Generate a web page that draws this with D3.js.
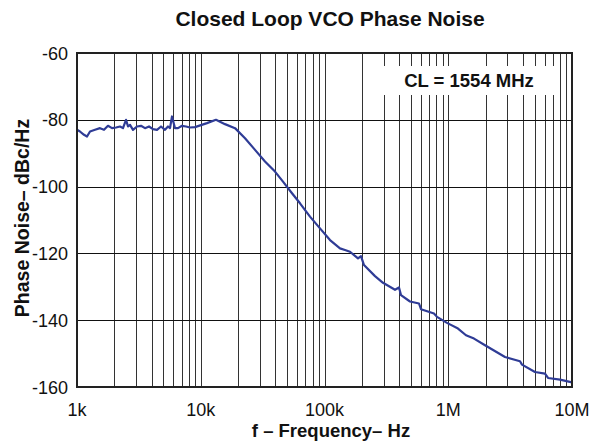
<!DOCTYPE html>
<html>
<head>
<meta charset="utf-8">
<script src="https://cdn.jsdelivr.net/npm/d3@7"></script>
<style>
  body { margin: 0; background: #fff; }
  text { font-family: "Liberation Sans", Arial, sans-serif; fill: #111; }
</style>
</head>
<body>
<div id="chart"></div>
<script>
// tick labels
var xTicks = [1e3, 1e4, 1e5, 1e6, 1e7];
var xTickLabels = ["1k", "10k", "100k", "1M", "10M"];
var yTicks = [-160, -140, -120, -100, -80, -60];

// phase noise curve
var freq = [1000, 1057, 1139, 1205, 1274, 1398, 1534, 1653, 1780, 1918, 2066, 2226, 2353, 2489, 2584, 2681, 2835, 3053, 3290, 3544, 3817, 4113, 4431, 4773, 5142, 5438, 5643, 5857, 6193, 6551, 7056, 7601, 8188, 8985,
  11230, 13280, 15700, 18920, 22790, 27450, 33050, 39810, 46190, 54630, 63390, 76350, 91960, 110800, 133400, 146400, 160700, 186500, 197200, 208500, 255900, 297000, 371300, 399900, 415000, 490900, 580200, 602300, 767000, 811000, 977000,
  1199000, 1391000, 1615000, 1982000, 2875000, 3799000, 3945000, 5023000, 6051000, 6400000, 8000000, 10000000];
var noise = [-83, -83.5, -84.5, -85, -83.5, -83, -82.5, -83, -81.8, -82.5, -82.3, -82, -82.5, -80, -82, -81.5, -83, -82, -81.8, -82.5, -82, -82.8, -83, -82, -83, -82, -82.5, -79, -82.5, -82.5, -81.8, -82, -82.3, -82.2,
  -81, -80, -81.3, -82.5, -85.5, -89, -92.5, -95.5, -98.5, -102, -105, -109, -112.5, -116, -118.5, -119, -119.5, -121.5, -120.8, -123.5, -126.8, -128.8, -130.9, -130.2, -132.5, -134.4, -135, -136.7, -138, -139, -140.8,
  -142.5, -144.5, -145.5, -147.5, -151, -152.3, -153.3, -155.5, -156, -157.3, -157.8, -158.6];

var W = 590, H = 445;
var margin = { left: 77, right: 18, top: 53, bottom: 58 };

var svg = d3.select("#chart").append("svg")
  .attr("width", W)
  .attr("height", H);

var x = d3.scaleLog().domain([1e3, 1e7]).range([margin.left, W - margin.right]);
var y = d3.scaleLinear().domain([-160, -60]).range([H - margin.bottom, margin.top]);

// grid: 1..9 per decade
var minor = [];
for (var d = 1e3; d < 1e7; d *= 10) {
  for (var k = 1; k < 10; k++) minor.push(d * k);
}

svg.append("g").selectAll("line")
  .data(minor)
  .enter().append("line")
  .attr("x1", function (d) { return Math.round(x(d)) + 0.5; })
  .attr("x2", function (d) { return Math.round(x(d)) + 0.5; })
  .attr("y1", y(-60))
  .attr("y2", y(-160))
  .attr("stroke", "#333")
  .attr("stroke-width", 1);

svg.append("g").selectAll("line")
  .data(yTicks)
  .enter().append("line")
  .attr("x1", x(1e3))
  .attr("x2", x(1e7))
  .attr("y1", function (d) { return Math.round(y(d)) + 0.5; })
  .attr("y2", function (d) { return Math.round(y(d)) + 0.5; })
  .attr("stroke", "#111")
  .attr("stroke-width", 1);

// legend box hides grid
svg.append("rect")
  .attr("x", 384)
  .attr("y", 66)
  .attr("width", 172)
  .attr("height", 29)
  .attr("fill", "#fff");

svg.append("text")
  .attr("x", 469)
  .attr("y", 87)
  .attr("text-anchor", "middle")
  .style("font-size", "18.5px")
  .style("font-weight", "bold")
  .text("CL = 1554 MHz");

// curve
var pts = freq.map(function (f, i) { return [f, noise[i]]; });
svg.append("path")
  .datum(pts)
  .attr("fill", "none")
  .attr("stroke", "#2f3c96")
  .attr("stroke-width", 2.2)
  .attr("stroke-linejoin", "round")
  .attr("d", d3.line()
    .x(function (d) { return x(d[0]); })
    .y(function (d) { return y(d[1]); }));

// frame
svg.append("rect")
  .attr("x", x(1e3))
  .attr("y", y(-60))
  .attr("width", x(1e7) - x(1e3))
  .attr("height", y(-160) - y(-60))
  .attr("fill", "none")
  .attr("stroke", "#222")
  .attr("stroke-width", 2);

// axes labels
svg.append("g").selectAll("text")
  .data(xTicks)
  .enter().append("text")
  .attr("x", function (d) { return x(d); })
  .attr("y", 416)
  .attr("text-anchor", "middle")
  .style("font-size", "18px")
  .text(function (d, i) { return xTickLabels[i]; });

svg.append("g").selectAll("text")
  .data(yTicks)
  .enter().append("text")
  .attr("x", margin.left - 9)
  .attr("y", function (d) { return y(d) + 6.5; })
  .attr("text-anchor", "end")
  .style("font-size", "18px")
  .text(function (d) { return d; });

svg.append("text")
  .attr("x", 330)
  .attr("y", 26)
  .attr("text-anchor", "middle")
  .style("font-size", "21px")
  .style("font-weight", "bold")
  .text("Closed Loop VCO Phase Noise");

svg.append("text")
  .attr("x", 331)
  .attr("y", 437)
  .attr("text-anchor", "middle")
  .style("font-size", "18.5px")
  .style("font-weight", "bold")
  .text("f – Frequency– Hz");

svg.append("text")
  .attr("transform", "translate(29," + 218 + ") rotate(-90)")
  .attr("text-anchor", "middle")
  .style("font-size", "19.5px")
  .style("font-weight", "bold")
  .text("Phase Noise– dBc/Hz");
</script>
</body>
</html>
